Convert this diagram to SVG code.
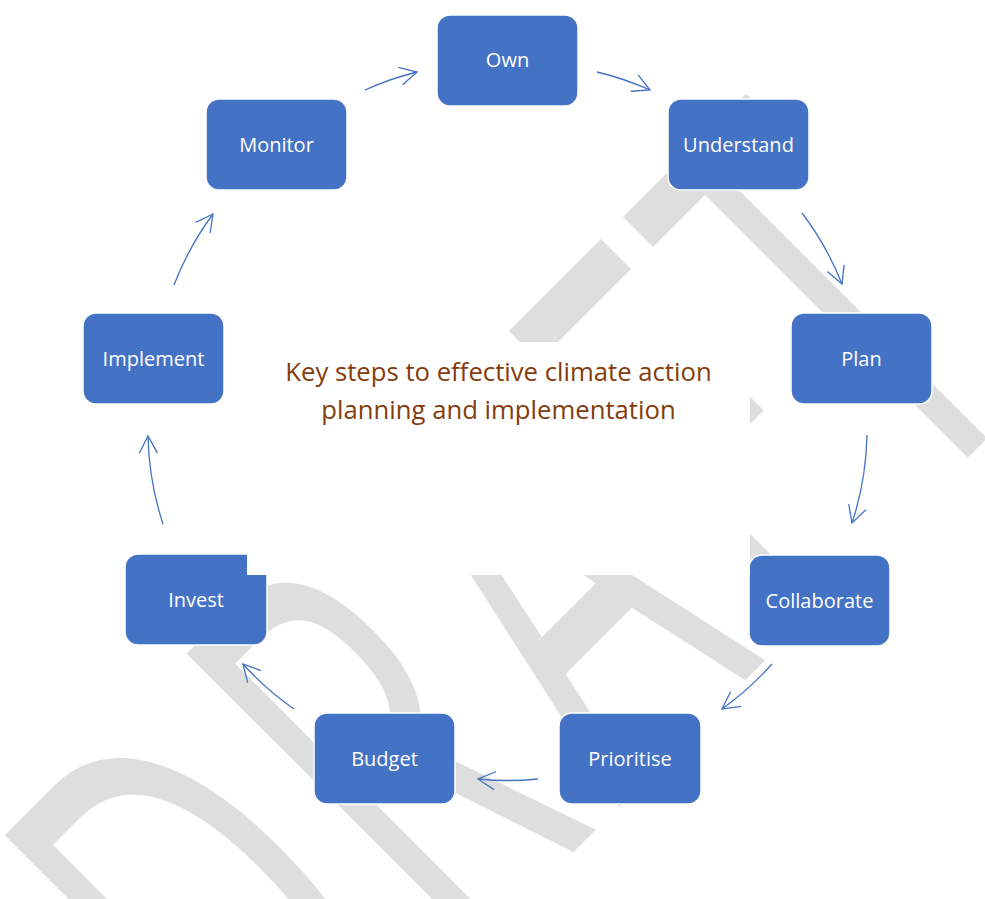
<svg xmlns="http://www.w3.org/2000/svg" width="985" height="899" viewBox="0 0 985 899">
<style>
.box{fill:#4472C4;stroke:#ffffff;stroke-width:1.5}
.lbl{font-family:"Open Sans","Noto Sans","Liberation Sans",sans-serif;font-size:20px;fill:#ffffff;text-anchor:middle}
.con{fill:none;stroke:#4472C4;stroke-width:1.3}
.title{font-family:"Open Sans","Noto Sans","Liberation Sans",sans-serif;font-size:25.7px;fill:#843C0C;text-anchor:middle}
</style>
<defs>
<marker id="ah" markerUnits="userSpaceOnUse" markerWidth="40" markerHeight="40" viewBox="-20 -20 40 40" refX="0" refY="0" orient="auto" overflow="visible">
<path d="M-17,-9 L0,0 L-17,9" fill="none" stroke="#4472C4" stroke-width="1.3"/>
</marker>
</defs>
<rect x="0" y="0" width="985" height="899" fill="#ffffff"/>
<g id="watermark">
<text x="-1096 -641 -235 166 503" y="1008" transform="rotate(-45) scale(0.565,1)" font-family="Open Sans, Noto Sans, sans-serif" font-size="580" fill="#dedede">DRAFT</text>
</g>
<g id="connectors">
<path class="con" marker-end="url(#ah)" d="M365,90 A300,300 0 0 1 417,72"/>
<path class="con" marker-end="url(#ah)" d="M597,72 A300,300 0 0 1 650,90"/>
<path class="con" marker-end="url(#ah)" d="M802,213 A300,300 0 0 1 842,284"/>
<path class="con" marker-end="url(#ah)" d="M867,435 A300,300 0 0 1 852,523"/>
<path class="con" marker-end="url(#ah)" d="M772,664 A300,300 0 0 1 722,709"/>
<path class="con" marker-end="url(#ah)" d="M538,779 A300,300 0 0 1 478,779"/>
<path class="con" marker-end="url(#ah)" d="M294,709 A300,300 0 0 1 243,664"/>
<path class="con" marker-end="url(#ah)" d="M163,524 A300,300 0 0 1 148,436"/>
<path class="con" marker-end="url(#ah)" d="M174,285 A300,300 0 0 1 213,214"/>
</g>
<g id="node-own"><rect class="box" x="437" y="15" width="141" height="91" rx="13"/><text class="lbl" x="507.5" y="67">Own</text></g>
<g id="node-understand"><rect class="box" x="668" y="99" width="141" height="91" rx="13"/><text class="lbl" x="738.5" y="152">Understand</text></g>
<g id="node-plan"><rect class="box" x="791" y="313" width="141" height="91" rx="13"/><text class="lbl" x="861.5" y="366">Plan</text></g>
<g id="node-collaborate"><rect class="box" x="749" y="555" width="141" height="91" rx="13"/><text class="lbl" x="819.5" y="608">Collaborate</text></g>
<g id="node-prioritise"><rect class="box" x="559" y="713" width="142" height="91" rx="13"/><text class="lbl" x="630" y="766">Prioritise</text></g>
<g id="node-budget"><rect class="box" x="314" y="713" width="141" height="91" rx="13"/><text class="lbl" x="384.5" y="766">Budget</text></g>
<g id="node-invest"><rect class="box" x="125" y="554" width="142" height="91" rx="13"/><text class="lbl" x="196" y="607">Invest</text></g>
<g id="node-implement"><rect class="box" x="83" y="313" width="141" height="91" rx="13"/><text class="lbl" x="153.5" y="366">Implement</text></g>
<g id="node-monitor"><rect class="box" x="206" y="99" width="141" height="91" rx="13"/><text class="lbl" x="276.5" y="152">Monitor</text></g>
<g id="title">
<rect x="247" y="342" width="503" height="233" fill="#ffffff"/>
<text class="title" x="498.5" y="381">Key steps to effective climate action</text>
<text class="title" x="498.5" y="419">planning and implementation</text>
</g>
</svg>
